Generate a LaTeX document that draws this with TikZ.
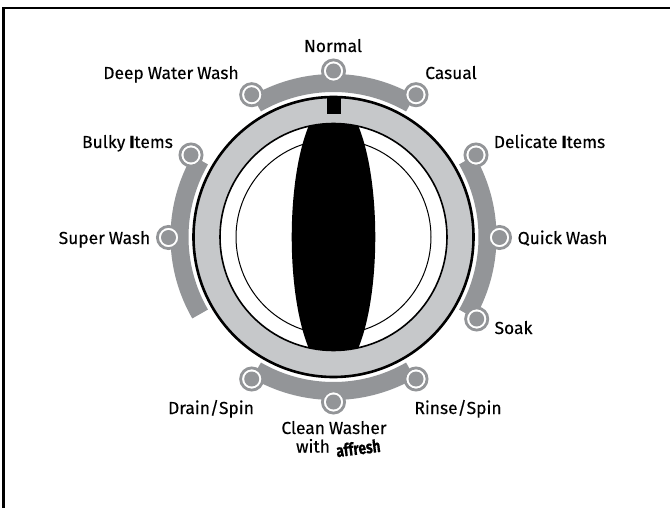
\documentclass[tikz,border=0pt]{standalone}
\usepackage{fontspec}
\setmainfont{Fira Sans}[WordSpace=0.85,FakeBold=0.25]
\newfontfamily\affreshfont{Fira Sans Bold}[FakeBold=0.6]
\definecolor{band}{HTML}{939598}
\definecolor{ringg}{HTML}{C6C8CA}
\tikzset{x=1pt,y=-1pt,
 lab/.style={anchor=base,inner sep=0pt,font=\fontsize{17.4}{17.4}\selectfont,text=black},
 bandarc/.style={draw=band,line width=18pt,line cap=butt},
 marker/.style={circle,draw=band,line width=2.8pt,fill=white,minimum size=22.2pt,inner sep=0pt}}
\newcommand{\mk}[3]{\node[marker] (#1) at (#2,#3) {}; \fill[band] (#1.center) circle (7.5pt);}
\begin{document}
\begin{tikzpicture}
\useasboundingbox (0,0) rectangle (670,508);
\fill[white] (0,0) rectangle (670,508);
\draw[line width=2.8pt,black] (3.7,508) -- (3.7,8) -- (670,8);
\coordinate (c) at (333.5,237);
\foreach \a/\b in {-120/-60,150/210,-30/30,60/120}{
  \draw[bandarc] plot[domain=\a:\b,samples=60,smooth] ({333.5+154*cos(\x)},{237+154*sin(\x)});
}
% dial
\fill[ringg] (c) circle (140pt);
\fill[white] (c) circle (113.5pt);
\draw[black,line width=1pt] (c) circle (97.5pt);
\begin{scope}
  \clip (c) circle (113.5pt);
  \fill[black] (317,110) .. controls (283.3,160) and (283.3,314) .. (317,364)
     -- (350,364) .. controls (383.7,314) and (383.7,160) .. (350,110) -- cycle;
\end{scope}
\draw[black,line width=1.6pt] (c) circle (113.5pt);
\draw[black,line width=2.6pt] (c) circle (140pt);
\fill[black] (326.5,98) rectangle (341,114.5);
% markers
\mk{m1}{333.5}{71}
\mk{m2}{251.7}{94.7}
\mk{m3}{416}{94.7}
\mk{m4}{191}{155}
\mk{m5}{476}{155}
\mk{m6}{168.5}{237.5}
\mk{m7}{499.5}{237.5}
\mk{m8}{476.7}{319}
\mk{m9}{251.7}{379}
\mk{m10}{333.5}{402}
\mk{m11}{416}{379}
% labels
\node[lab] (t1) at (333,52) {Normal};
\node[lab] (t2) at (171,79) {Deep Water Wash};
\node[lab] (t3) at (451,79) {Casual};
\node[lab] (t4) at (127.5,148) {Bulky \textbf{I}tems};
\node[lab] (t5) at (549.5,148) {Delicate \textbf{I}tems};
\node[lab] (t6) at (104.5,244) {Super Wash};
\node[lab] (t7) at (562.5,244) {Quick Wash};
\node[lab] (t8) at (513.5,334) {Soak};
\node[lab] (t9) at (211,414) {Drain/Spin};
\node[lab] (t10) at (458,414) {Rinse/Spin};
\node[lab] (t11) at (334,434) {Clean Washer};
\node[lab] (t12) at (313,452.5) {with};
\node[lab,font=\fontsize{17.5}{17.5}\affreshfont,rotate=7,xscale=.78] (t13) at (359,454.5) {affresh};
\end{tikzpicture}
\end{document}
